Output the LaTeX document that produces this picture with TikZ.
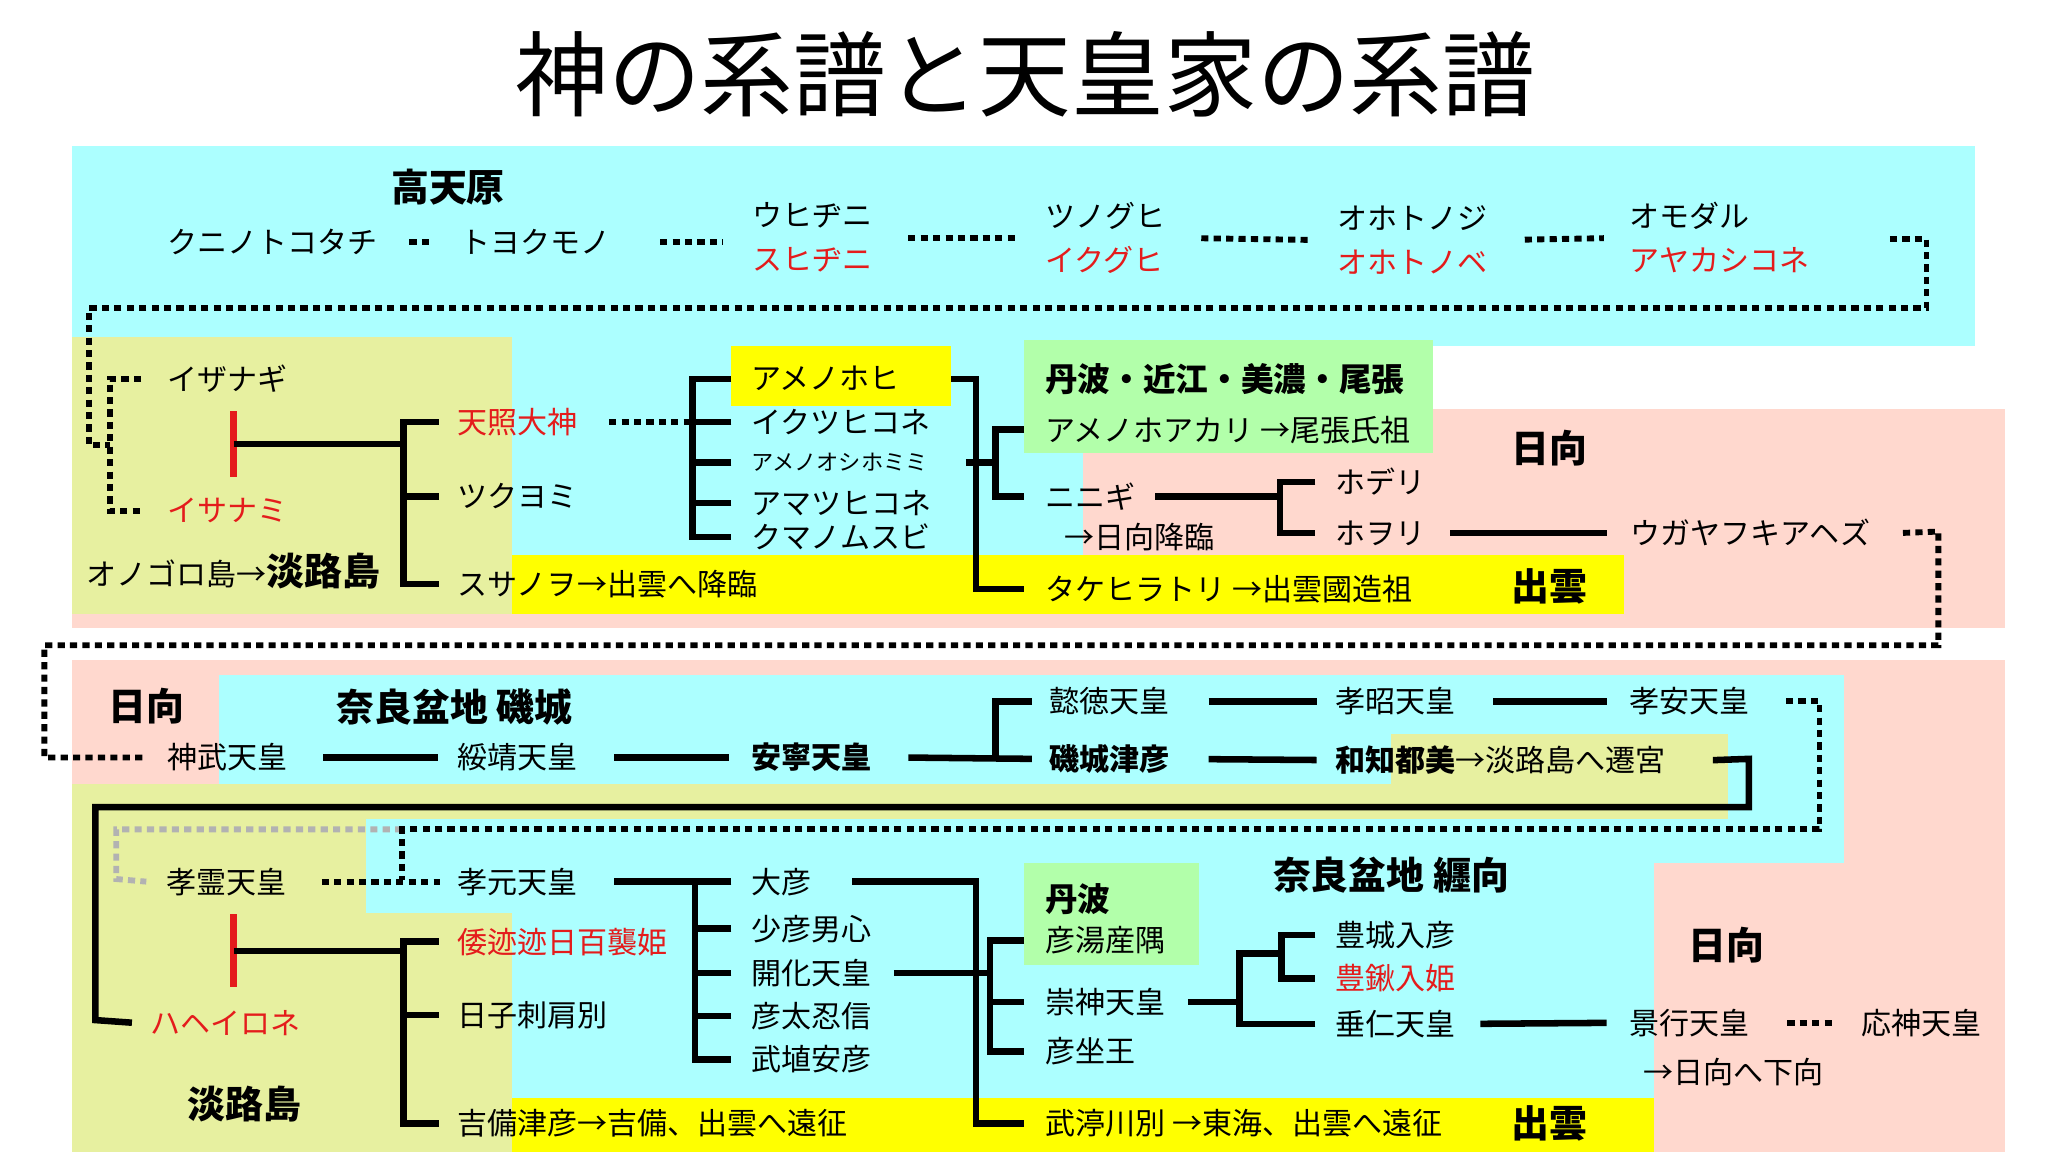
\documentclass[tikz,border=0pt]{standalone}
\usepackage{fontspec}
\setmainfont{Noto Sans CJK JP}
\usetikzlibrary{calc}
\definecolor{cy}{RGB}{172,255,255}
\definecolor{pk}{RGB}{255,216,206}
\definecolor{kh}{RGB}{231,240,160}
\definecolor{ye}{RGB}{255,255,0}
\definecolor{gr}{RGB}{178,255,170}
\definecolor{rd}{RGB}{228,28,28}
\definecolor{gy}{RGB}{178,178,178}
\begin{document}
\begin{tikzpicture}[x=1pt,y=-1pt,
  lbl/.style={inner sep=0pt,anchor=west,font=\fontsize{23}{25}\selectfont},
  lblb/.style={lbl,font=\fontsize{23}{25}\selectfont\bfseries},
  hdr/.style={inner sep=0pt,font=\fontsize{29}{31}\selectfont\bfseries},
  ln/.style={line width=5pt},
  redbar/.style={line width=5.5pt,draw=rd},
  dotln/.style={line width=4.5pt,dash pattern=on 5.5pt off 4pt}]
\useasboundingbox (0,0) rectangle (1568,882);
% ---------- backgrounds ----------
\fill[pk] (55,313) rectangle (1535,481);
\fill[cy] (55,112) rectangle (1512,265);
\fill[cy] (55,265) rectangle (829,470);
\fill[kh] (55,258) rectangle (392,470);
\fill[ye] (392,425) rectangle (1243,470);
\fill[ye] (560,265) rectangle (728,311);
\fill[gr] (784,260) rectangle (1097,347);
\fill[pk] (55,505) rectangle (1535,882);
\fill[cy] (168,517) rectangle (1412,661);
\fill[kh] (55,600) rectangle (392,882);
\fill[kh] (55,600) rectangle (1323,627);
\fill[kh] (1065,562) rectangle (1323,627);
\fill[cy] (280,627) rectangle (1266,699);
\fill[cy] (392,699) rectangle (1266,841);
\fill[ye] (392,841) rectangle (1266,882);
\fill[gr] (784,661) rectangle (918,739);
% ---------- title ----------
\node[inner sep=0pt,font=\fontsize{71}{73}\selectfont] (title) at (785,57) {神の系譜と天皇家の系譜};
% ---------- row 1 ----------
\node[hdr] (takama) at (343,143) {高天原};
\node[lbl] (kuni) at (128,185) {クニノトコタチ};
\node[lbl] (toyo) at (352,185) {トヨクモノ};
\node[lbl] (uhi) at (576,165) {ウヒヂニ};
\node[lbl,text=rd] (suhi) at (576,199) {スヒヂニ};
\node[lbl] (tsuno) at (800,165) {ツノグヒ};
\node[lbl,text=rd] (ikugu) at (800,199) {イクグヒ};
\node[lbl] (ohoto) at (1024,167) {オホトノジ};
\node[lbl,text=rd] (ohotobe) at (1024,201) {オホトノベ};
\node[lbl] (omoda) at (1247,165) {オモダル};
\node[lbl,text=rd] (ayaka) at (1247,199) {アヤカシコネ};
\draw[dotln,shorten <=24pt,shorten >=20pt] (kuni.east) -- (toyo.west);
\draw[dotln,shorten <=38pt,shorten >=23pt] (toyo.east) -- (toyo.east -| uhi.west);
\draw[dotln,shorten <=27pt,shorten >=20pt] ($(uhi.east)!.5!(suhi.east)$) -- ($(tsuno.west)!.5!(ikugu.west)$);
\draw[dotln,shorten <=28pt,shorten >=21pt] ($(tsuno.east)!.5!(ikugu.east)$) -- ($(ohoto.west)!.5!(ohotobe.west)$);
\draw[dotln,shorten <=28pt,shorten >=19pt] ($(ohoto.east)!.5!(ohotobe.east)$) -- ($(omoda.west)!.5!(ayaka.west)$);
% ---------- row 2 ----------
\node[lbl] (izanagi) at (128,290) {イザナギ};
\node[lbl,text=rd] (izanami) at (128,391) {イサナミ};
\coordinate (d1s) at (1447,183);
\coordinate (d1j) at (84,341);
\draw[dotln] (d1s) -- (1475,183) -- (1475,236) -- (68,236) -- (68,341) -- (d1j);
\draw[dotln] ([xshift=-20pt]izanagi.west) -- ++(-24,0) |- ([xshift=-18pt]izanami.west);
\coordinate (m1) at (179,340);
\draw[redbar] (179,315) -- (179,365);
\node[lbl,text=rd] (amat) at (350,323) {天照大神};
\node[lbl] (tsuku) at (350,380) {ツクヨミ};
\node[lbl] (susa) at (350,447) {スサノヲ→出雲へ降臨};
\node[lbl] (onogoro) at (66,437) {オノゴロ島→{\fontsize{29}{31}\selectfont\bfseries 淡路島}};
\draw[ln] (m1) -- ($(amat.west)+(-41,17)$);
\draw[ln] ([xshift=-14pt]amat.west) -- ++(-27,0) |- ([xshift=-14pt]susa.west);
\draw[ln] ([xshift=-14pt]tsuku.west) -- ++(-27,0);
\node[lbl] (hohi) at (575,290) {アメノホヒ};
\node[lbl] (ikutsu) at (575,323) {イクツヒコネ};
\node[lbl,font=\fontsize{17}{19}\selectfont] (oshiho) at (575,354) {アメノオシホミミ};
\node[lbl] (amatsu) at (575,385) {アマツヒコネ};
\node[lbl] (kumano) at (575,411) {クマノムスビ};
\draw[dotln,shorten <=24pt] (amat.east) -- ([xshift=-45pt]ikutsu.west);
\draw[ln] ([xshift=-15pt]hohi.west) -- ++(-30,0) |- ([xshift=-15pt]kumano.west);
\draw[ln] ([xshift=-15pt]ikutsu.west) -- ++(-30,0);
\draw[ln] ([xshift=-15pt]oshiho.west) -- ++(-30,0);
\draw[ln] ([xshift=-15pt]amatsu.west) -- ++(-30,0);
\node[lblb,font=\fontsize{25}{27}\selectfont\bfseries] (tanba1) at (800,290) {丹波・近江・美濃・尾張};
\node[lbl] (hoakari) at (800,329) {アメノホアカリ →尾張氏祖};
\node[lbl] (ninigi) at (800,380) {ニニギ};
\node[lbl] (kourin) at (815,411) {→日向降臨};
\node[lbl] (takehi) at (800,451) {タケヒラトリ →出雲國造祖};
\draw[ln] ([xshift=39pt]hohi.east) -- ++(19,0) |- ([xshift=-16pt]takehi.west);
\draw[ln] ([xshift=29pt]oshiho.east) -- ($(oshiho.east -| hoakari.west)+(-38,0)$);
\draw[ln] ([xshift=-16pt]hoakari.west) -- ++(-22,0) |- ([xshift=-16pt]ninigi.west);
\node[lbl] (hoderi) at (1022,369) {ホデリ};
\node[lbl] (howori) at (1022,408) {ホヲリ};
\draw[ln,shorten <=15pt] (ninigi.east) -- ($(ninigi.east -| hoderi.west)+(-42,0)$);
\draw[ln] ([xshift=-15pt]hoderi.west) -- ++(-27,0) |- ([xshift=-15pt]howori.west);
\node[lbl] (ugaya) at (1248,408) {ウガヤフキアヘズ};
\draw[ln,shorten <=19pt,shorten >=18pt] (howori.east) -- (ugaya.west);
\node[hdr] (hyuga1) at (1186,343) {日向};
\node[hdr] (izumo1) at (1186,449) {出雲};
% ---------- row 3 ----------
\node[hdr] (hyuga2) at (112,541) {日向};
\node[hdr] (naraS) at (348,541) {奈良盆地 磯城};
\node[lbl] (jimmu) at (128,580) {神武天皇};
\node[lbl] (suizei) at (350,580) {綏靖天皇};
\node[lblb] (annei) at (575,580) {安寧天皇};
\node[lbl] (itoku) at (803,537) {懿徳天皇};
\node[lblb] (shiki) at (803,581) {磯城津彦};
\node[lbl] (kousho) at (1022,537) {孝昭天皇};
\node[lbl] (kouan) at (1247,537) {孝安天皇};
\node[lbl] (wachi) at (1022,582) {\bfseries 和知都美\mdseries →淡路島へ遷宮};
\draw[dotln] ([xshift=25pt]ugaya.east) -- (1484,407) -- (1484,494) -- (34,494) -- (34,580) -- ([xshift=-18pt]jimmu.west);
\draw[ln,shorten <=27pt,shorten >=15pt] (jimmu.east) -- (suizei.west);
\draw[ln,shorten <=28pt,shorten >=17pt] (suizei.east) -- (annei.west);
\draw[ln] ([xshift=28pt]annei.east) -- ([xshift=-13pt]shiki.west);
\draw[ln] ([xshift=-13pt]itoku.west) -- ++(-28,0) -- ($(shiki.west)+(-41,0)$);
\draw[ln,shorten <=30pt,shorten >=14pt] (itoku.east) -- (kousho.west);
\draw[ln,shorten <=29pt,shorten >=17pt] (kousho.east) -- (kouan.west);
\draw[ln,shorten <=30pt,shorten >=14pt] (shiki.east) -- (wachi.west);
% ---------- row 4 ----------
\node[lbl] (kourei) at (127,675) {孝霊天皇};
\node[lbl] (kogen) at (350,675) {孝元天皇};
\node[lbl,text=rd] (haheirone) at (115,783) {ハヘイロネ};
\node[hdr] (awaji2) at (187,845) {淡路島};
\coordinate (k1) at (308,635);
\draw[dotln,draw=gy] (k1) -- (89,635) -- (89,673) -- ([xshift=-15pt]kourei.west);
\draw[dotln] ([xshift=28pt]kouan.east) -- (1393,537) -- (1393,635) -- (k1) -- (308,674);
\draw[dotln,shorten <=27pt,shorten >=13pt] (kourei.east) -- (kogen.west);
\draw[ln] ([xshift=36pt]wachi.east) -- (1339,581) -- (1339,618) -- (73,618) -- (73,781) -- ([xshift=-14pt]haheirone.west);
\draw[redbar] (179,700) -- (179,756);
\node[lbl,text=rd] (momoso) at (350,721) {倭迹迹日百襲姫};
\node[lbl] (hiko) at (350,777) {日子刺肩別};
\node[lbl] (kibi) at (350,860) {吉備津彦→吉備、出雲へ遠征};
\coordinate (m2) at (179,728);
\draw[ln] (m2) -- (309,728);
\draw[ln] ([xshift=-14pt]momoso.west) -- ++(-27,0) |- ([xshift=-14pt]kibi.west);
\draw[ln] ([xshift=-14pt]hiko.west) -- ++(-27,0);
\node[lbl] (ohiko) at (575,675) {大彦};
\node[lbl] (sukuna) at (575,711) {少彦男心};
\node[lbl] (kaika) at (575,745) {開化天皇};
\node[lbl] (futo) at (575,778) {彦太忍信};
\node[lbl] (takehani) at (575,811) {武埴安彦};
\draw[ln,shorten <=28pt] (kogen.east) -- ([xshift=-15pt]ohiko.west);
\draw[ln] ([xshift=-15pt]ohiko.west) -- ++(-28,0) |- ([xshift=-15pt]takehani.west);
\draw[ln] ([xshift=-15pt]sukuna.west) -- ++(-28,0);
\draw[ln] ([xshift=-15pt]kaika.west) -- ++(-28,0);
\draw[ln] ([xshift=-15pt]futo.west) -- ++(-28,0);
\node[lblb,font=\fontsize{25}{27}\selectfont\bfseries] (tanba2) at (800,688) {丹波};
\node[lbl] (hikoyu) at (800,720) {彦湯産隅};
\node[lbl] (sujin) at (800,767) {崇神天皇};
\node[lbl] (hikoimasu) at (800,805) {彦坐王};
\node[lbl] (takenuna) at (800,860) {武渟川別 →東海、出雲へ遠征};
\draw[ln] ([xshift=31pt]ohiko.east) -- ++(95,0) |- ([xshift=-16pt]takenuna.west);
\draw[ln] ([xshift=17pt]kaika.east) -- ($(kaika.east -| hikoyu.west)+(-42,0)$);
\draw[ln] ([xshift=-16pt]hikoyu.west) -- ++(-26,0) |- ([xshift=-16pt]hikoimasu.west);
\draw[ln] ([xshift=-16pt]sujin.west) -- ++(-26,0);
\node[lbl] (toyoki) at (1022,716) {豊城入彦};
\node[lbl,text=rd] (toyosuki) at (1022,749) {豊鍬入姫};
\node[lbl] (suinin) at (1022,784) {垂仁天皇};
\draw[ln,shorten <=17pt] (sujin.east) -- ($(sujin.east -| suinin.west)+(-73,0)$);
\draw[ln] ([xshift=-15pt]suinin.west) -| ($(toyoki.west)+(-73,14)$) -- ++(32,0);
\draw[ln] ([xshift=-15pt]toyoki.west) -- ++(-26,0) |- ([xshift=-15pt]toyosuki.west);
\node[lbl] (keiko) at (1247,783) {景行天皇};
\node[lbl] (oujin) at (1425,783) {応神天皇};
\node[lbl] (gekou) at (1258,821) {→日向へ下向};
\draw[ln,shorten <=19pt,shorten >=17pt] (suinin.east) -- (keiko.west);
\draw[dotln,shorten <=29pt,shorten >=20pt] (keiko.east) -- (oujin.west);
\node[hdr] (naraM) at (1065,670) {奈良盆地 纒向};
\node[hdr] (hyuga3) at (1322,724) {日向};
\node[hdr] (izumo2) at (1186,860) {出雲};
\end{tikzpicture}
\end{document}
